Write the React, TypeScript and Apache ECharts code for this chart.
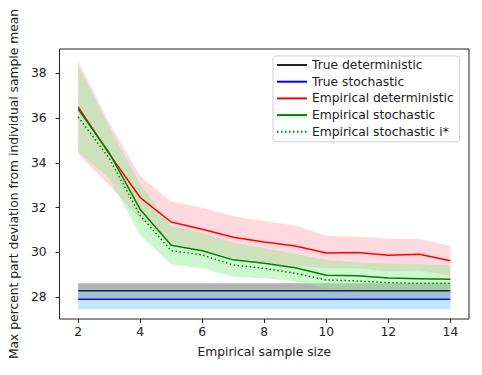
import React, { useEffect, useRef } from "react";
import * as echarts from "echarts";

const sampleSizes = [2, 3, 4, 5, 6, 7, 8, 9, 10, 11, 12, 13, 14];
const xTickLabels = [2, 4, 6, 8, 10, 12, 14];
const yTickLabels = [28, 30, 32, 34, 36, 38];

const trueDetMean = 28.29;
const trueDetLo = 27.96;
const trueDetHi = 28.62;
const trueStoMean = 27.91;
const trueStoLo = 27.46;
const trueStoHi = 28.36;

const empDet = [36.5, 34.4, 32.45, 31.36, 31.04, 30.68, 30.47, 30.29, 29.98, 30.0, 29.87, 29.92, 29.63];
const empDetHi = [38.52, 35.8, 33.4, 32.27, 32.0, 31.62, 31.4, 31.2, 30.75, 30.7, 30.62, 30.6, 30.3];
const empDetLo = [34.4, 33.0, 31.5, 30.42, 30.1, 29.75, 29.55, 29.38, 29.3, 29.3, 29.15, 29.2, 28.96];

const empSto = [36.4, 34.45, 31.92, 30.32, 30.08, 29.67, 29.52, 29.32, 28.98, 28.96, 28.86, 28.83, 28.8];
const empStoHi = [38.35, 35.6, 33.06, 31.17, 30.87, 30.42, 30.19, 29.94, 29.66, 29.56, 29.5, 29.47, 29.44];
const empStoLo = [34.5, 33.3, 30.78, 29.47, 29.29, 28.92, 28.85, 28.7, 28.4, 28.36, 28.33, 28.3, 28.3];

const empStoIStar = [36.05, 34.2, 31.65, 30.08, 29.89, 29.44, 29.29, 29.07, 28.77, 28.73, 28.65, 28.62, 28.62];

const FONT = "DejaVu Sans";
const FS = 12.3;
const TEXT = "#222";

function pts(vals: number[]) {
  return sampleSizes.map((x, i) => [x, vals[i]]);
}

function band(id: string, lo: number[], hi: number[], color: string) {
  return {
    type: "custom",
    name: id,
    data: pts(hi),
    silent: true,
    clip: true,
    z: 1,
    renderItem: (params: any, api: any) => {
      if (params.dataIndex !== 0) return null;
      const top = sampleSizes.map((x, i) => api.coord([x, hi[i]]));
      const bottom = sampleSizes.map((x, i) => api.coord([x, lo[i]])).reverse();
      return {
        type: "polygon",
        shape: { points: [...top, ...bottom] },
        style: { fill: color, stroke: "none" },
      };
    },
  };
}

function line(name: string, vals: number[], color: string, type: any = "solid") {
  return {
    type: "line",
    name,
    data: pts(vals),
    symbol: "none",
    silent: true,
    lineStyle: { color, width: 1.5, type },
    itemStyle: { color },
    z: 3,
  };
}

export default function App() {
  const ref = useRef<HTMLDivElement>(null);
  useEffect(() => {
    const chart = echarts.init(ref.current!, null, { renderer: "svg" });
    const constant = (v: number) => sampleSizes.map(() => v);
    const option: any = {
      animation: false,
      textStyle: { fontFamily: FONT },
      grid: {
        left: 51,
        top: 49,
        width: 418,
        height: 270,
        show: true,
        borderColor: TEXT,
        borderWidth: 1,
        backgroundColor: "transparent",
      },
      legend: {
        orient: "vertical",
        left: 273,
        top: 56,
        padding: [3, 6, 4, 3],
        itemWidth: 30,
        itemHeight: 14,
        itemGap: 4.7,
        backgroundColor: "rgba(255,255,255,0.8)",
        borderColor: "#d0d0d0",
        borderWidth: 1,
        borderRadius: 3,
        itemStyle: { opacity: 0 },
        textStyle: { fontFamily: FONT, fontSize: FS, color: TEXT },
        data: [
          "True deterministic",
          "True stochastic",
          "Empirical deterministic",
          "Empirical stochastic",
          "Empirical stochastic i*",
        ],
      },
      xAxis: {
        type: "value",
        min: 1.4,
        max: 14.6,
        splitLine: { show: false },
        axisLine: { show: false },
        axisTick: {
          show: true,
          length: 4,
          customValues: xTickLabels,
          lineStyle: { color: TEXT },
        },
        axisLabel: {
          customValues: xTickLabels,
          fontFamily: FONT,
          fontSize: FS,
          color: TEXT,
          margin: 7,
        },
        name: "Empirical sample size",
        nameLocation: "middle",
        nameGap: 27,
        nameTextStyle: { fontFamily: FONT, fontSize: FS, color: TEXT },
      },
      yAxis: {
        type: "value",
        min: 27.03,
        max: 39.08,
        splitLine: { show: false },
        axisLine: { show: false },
        axisTick: {
          show: true,
          length: 4,
          customValues: yTickLabels,
          lineStyle: { color: TEXT },
        },
        axisLabel: {
          customValues: yTickLabels,
          fontFamily: FONT,
          fontSize: FS,
          color: TEXT,
          margin: 13,
        },
        name: "Max percent part deviation from individual sample mean",
        nameLocation: "middle",
        nameGap: 32,
        nameTextStyle: { fontFamily: FONT, fontSize: FS, color: TEXT },
      },
      series: [
        band("trueDetBand", constant(trueDetLo), constant(trueDetHi), "rgba(0,0,0,0.3)"),
        band("trueStoBand", constant(trueStoLo), constant(trueStoHi), "rgba(135,206,250,0.5)"),
        band("empDetBand", empDetLo, empDetHi, "rgba(255,192,203,0.6)"),
        band("empStoBand", empStoLo, empStoHi, "rgba(144,238,144,0.45)"),
        line("True deterministic", constant(trueDetMean), "#222222"),
        line("True stochastic", constant(trueStoMean), "#0000ff"),
        line("Empirical deterministic", empDet, "#ff0000"),
        line("Empirical stochastic", empSto, "#008000"),
        line("Empirical stochastic i*", empStoIStar, "#008000", [1.5, 2.5]),
      ],
    };
    chart.setOption(option);
    return () => chart.dispose();
  }, []);
  return (
    <div
      ref={ref}
      style={{ position: "absolute", left: 0, top: 0, width: 482, height: 375, background: "#fff" }}
    />
  );
}
